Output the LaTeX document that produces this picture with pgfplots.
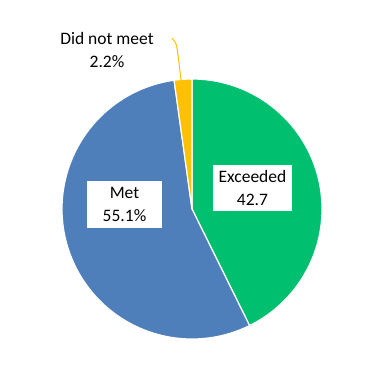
\documentclass[border=0pt]{standalone}
\usepackage{pgfplots}
\usepackage{pgfplotstable}
\pgfplotsset{compat=1.18}
\usepackage{fontspec}
\setmainfont{Carlito}
\definecolor{cExc}{HTML}{00BF6F}
\definecolor{cMet}{HTML}{4F7FBB}
\definecolor{cDnm}{HTML}{FFC000}
\pgfplotstableread{
cat value
Exceeded 42.7
Met 55.1
DidNotMeet 2.2
}\piedata
\pgfplotstablegetelem{0}{value}\of\piedata \let\vExc\pgfplotsretval
\pgfplotstablegetelem{1}{value}\of\piedata \let\vMet\pgfplotsretval
\pgfplotstablegetelem{2}{value}\of\piedata \let\vDnm\pgfplotsretval
\pgfmathsetmacro\aA{90}
\pgfmathsetmacro\aB{90-3.6*\vExc}
\pgfmathsetmacro\aC{\aB-3.6*\vMet}
\pgfmathsetmacro\aD{\aC-3.6*\vDnm}
\begin{document}
\begin{tikzpicture}
\begin{axis}[
  width=379pt, height=364pt, scale only axis,
  xmin=0, xmax=379, ymin=0, ymax=364, y dir=reverse,
  hide axis, clip=false,
  samples=120, variable=\t,
]
\path (axis cs:0,0) rectangle (axis cs:379,364);
\addplot[fill=cExc, draw=white, line width=1.2pt, line join=round, domain=\aB:\aA]
  ({192+130*cos(t)},{209-130*sin(t)}) -- (axis cs:192,209) -- cycle;
\addplot[fill=cMet, draw=white, line width=1.2pt, line join=round, domain=\aC:\aB]
  ({192+130*cos(t)},{209-130*sin(t)}) -- (axis cs:192,209) -- cycle;
\addplot[fill=cDnm, draw=white, line width=1.2pt, line join=round, domain=\aD:\aC]
  ({192+130*cos(t)},{209-130*sin(t)}) -- (axis cs:192,209) -- cycle;
\addplot[cDnm, line width=1pt, smooth] coordinates {(172,38) (176,44) (178,55) (181,80)};
\node[fill=white, align=center, inner sep=0pt, minimum width=79pt, minimum height=46pt,
  font=\fontsize{17.5}{23}\selectfont] at (axis cs:252.5,188) {Exceeded\\42.7};
\node[fill=white, align=center, inner sep=0pt, minimum width=75pt, minimum height=47pt,
  font=\fontsize{17.5}{23}\selectfont] at (axis cs:124.5,204.5) {Met\\55.1\%};
\node[align=center, inner sep=0pt,
  font=\fontsize{17.5}{23}\selectfont] at (axis cs:107,50) {Did not meet\\2.2\%};
\end{axis}
\end{tikzpicture}
\end{document}
